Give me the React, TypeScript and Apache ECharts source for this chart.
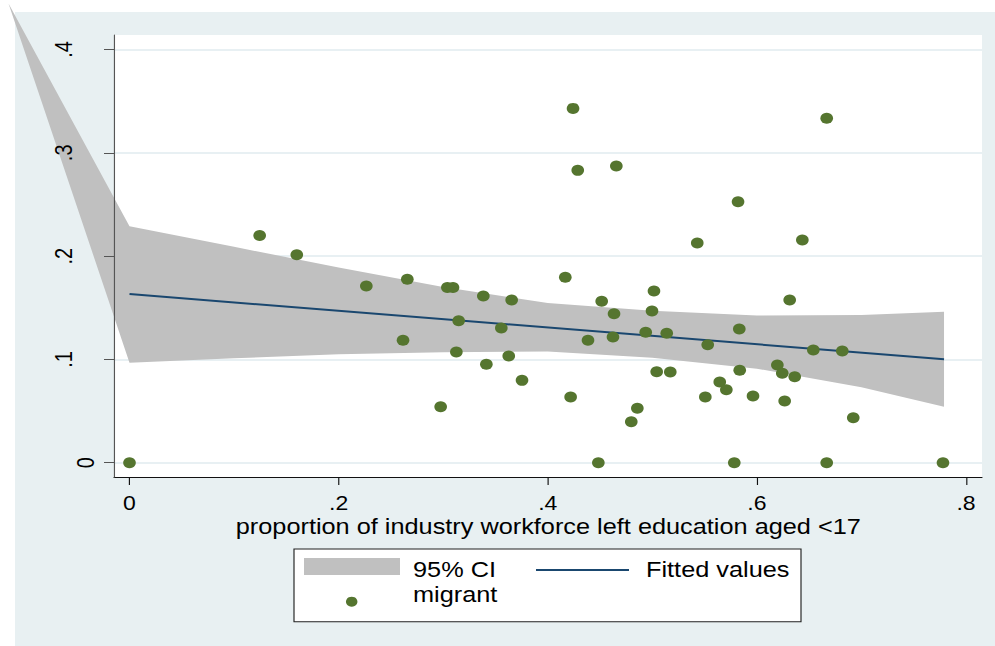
import React, { useEffect, useRef } from 'react';
import * as echarts from 'echarts';

// ---------- data ----------
const xTicks = [0, 0.2, 0.4, 0.6, 0.8];
const xTickLabels = ['0', '.2', '.4', '.6', '.8'];
const yTicks = [0, 0.1, 0.2, 0.3, 0.4];
const yTickLabels = ['0', '.1', '.2', '.3', '.4'];

const xTitle = 'proportion of industry workforce left education aged <17';
const legendNames = ['95% CI', 'Fitted values', 'migrant'];

const migrantX = [
  0.1245, 0.16, 0, 0.2265, 0.2657, 0.2616, 0.304, 0.3094, 0.3384, 0.3655,
  0.3148, 0.3556, 0.3126, 0.3627, 0.3413, 0.3754, 0.2976, 0.4242, 0.4287, 0.4656,
  0.582, 0.543, 0.4168, 0.4516, 0.5016, 0.4634, 0.4997, 0.4385, 0.4624, 0.4937,
  0.5138, 0.553, 0.5832, 0.5836, 0.5042, 0.5172, 0.5645, 0.5708, 0.5507, 0.5963,
  0.4219, 0.4857, 0.4799, 0.4484, 0.5784, 0.6668, 0.6435, 0.6314, 0.654, 0.6817,
  0.6196, 0.6243, 0.6362, 0.6266, 0.6922, 0.6668, 0.778,
];
const migrantY = [
  0.22, 0.2014, 0, 0.171, 0.1775, 0.1185, 0.1695, 0.1695, 0.1614, 0.1575,
  0.1375, 0.1304, 0.1072, 0.1033, 0.0952, 0.0797, 0.0542, 0.343, 0.283, 0.2872,
  0.2527, 0.2127, 0.1795, 0.1562, 0.1662, 0.1443, 0.1469, 0.1185, 0.1217, 0.1262,
  0.1253, 0.1142, 0.1294, 0.0894, 0.0881, 0.0878, 0.0781, 0.0707, 0.0636, 0.0646,
  0.0636, 0.0527, 0.0397, 0, 0, 0.3334, 0.2156, 0.1575, 0.1091, 0.1081,
  0.0946, 0.0865, 0.0833, 0.0597, 0.0436, 0, 0,
];

const fitX = [0, 0.779];
const fitY = [0.1633, 0.1002];

const ciX = [0, 0.1, 0.2, 0.3, 0.4, 0.5, 0.6, 0.7, 0.779];
const ciUpper = [0.229, 0.209, 0.189, 0.17, 0.1545, 0.147, 0.1425, 0.143, 0.1462];
const ciLower = [0.0968, 0.101, 0.105, 0.107, 0.1077, 0.1015, 0.091, 0.073, 0.0542];
// stray vertex of the CI area as drawn in the original (outside the plot region)
const ciArtifactVertex = [-0.1157, 0.4446];

// ---------- styling ----------
const S = 995 / 865; // horizontal stretch of the original picture
const FONT = '"Liberation Sans", Arial, Helvetica, sans-serif';
const GREEN = '#55752f';
const NAVY = '#1a476f';
const CI_GRAY = '#c0c0c0';
const BG = '#e8f0f2';

const X_MIN = -0.01482;
const X_MAX = 0.81532;
const Y_MIN = -0.01384;
const Y_MAX = 0.41404;

const sx = (v: number) => v / S;

export default function App() {
  const ref = useRef<HTMLDivElement>(null);

  useEffect(() => {
    if (!ref.current) return;
    const chart = echarts.init(ref.current, undefined, { renderer: 'svg' });

    const option: any = {
      animation: false,
      backgroundColor: '#ffffff',
      textStyle: { fontFamily: FONT },
      grid: {
        show: true,
        backgroundColor: '#ffffff',
        borderWidth: 0,
        left: sx(114),
        right: sx(13),
        top: 35,
        bottom: 169,
        containLabel: false,
      },
      xAxis: {
        type: 'value',
        min: X_MIN,
        max: X_MAX,
        axisLine: { show: true, onZero: false, lineStyle: { color: '#111', width: 1 } },
        axisTick: { show: true, length: 8, customValues: xTicks, lineStyle: { color: '#111', width: 1 } },
        axisLabel: {
          customValues: xTicks,
          margin: 16,
          fontSize: 20,
          fontFamily: FONT,
          color: '#000',
          formatter: (v: number) => {
            const i = xTicks.findIndex((t) => Math.abs(t - v) < 1e-9);
            return i >= 0 ? xTickLabels[i] : '';
          },
        },
        splitLine: { show: false },
      },
      yAxis: [
        {
          type: 'value',
          min: Y_MIN,
          max: Y_MAX,
          axisLine: { show: false, onZero: false },
          axisTick: { show: false, customValues: yTicks },
          axisLabel: { show: false, customValues: yTicks },
          splitLine: { show: true, lineStyle: { color: '#e8f0f3', width: 2 } },
        },
        {
          type: 'value',
          min: Y_MIN,
          max: Y_MAX,
          position: 'left',
          z: 5,
          axisLine: { show: true, onZero: false, lineStyle: { color: '#555', width: 1 } },
          axisTick: { show: true, length: sx(10), customValues: yTicks, lineStyle: { color: '#555', width: 1 } },
          axisLabel: {
            customValues: yTicks,
            rotate: 90,
            margin: 14.3,
            fontSize: 20,
            fontFamily: FONT,
            color: '#000',
            formatter: (v: number) => {
              const i = yTicks.findIndex((t) => Math.abs(t - v) < 1e-9);
              const lab = i >= 0 ? yTickLabels[i] : '';
              return i === 0 ? `{z|${lab}}` : `{n|${lab}}`;
            },
            rich: {
              z: { fontSize: 20, fontFamily: FONT, color: '#000' },
              n: { fontSize: 20, fontFamily: FONT, color: '#000', padding: [0, 0, 19, 0] },
            },
          },
          splitLine: { show: false },
        },
      ],
      series: [
        {
          type: 'custom',
          name: legendNames[0],
          silent: true,
          clip: false,
          z: 1,
          data: [[0, 0]],
          renderItem: (_params: any, api: any) => {
            const pts: number[][] = [api.coord(ciArtifactVertex)];
            ciX.forEach((x, i) => pts.push(api.coord([x, ciUpper[i]])));
            for (let i = ciX.length - 1; i >= 0; i--) pts.push(api.coord([ciX[i], ciLower[i]]));
            return {
              type: 'polygon',
              shape: { points: pts },
              style: { fill: CI_GRAY, stroke: null },
            };
          },
        },
        {
          type: 'line',
          name: legendNames[1],
          z: 2,
          showSymbol: false,
          symbol: 'none',
          data: fitX.map((x, i) => [x, fitY[i]]),
          lineStyle: { color: NAVY, width: 2 },
          silent: true,
        },
        {
          type: 'scatter',
          name: legendNames[2],
          z: 3,
          clip: false,
          symbol: 'circle',
          symbolSize: 11,
          itemStyle: { color: GREEN, opacity: 1 },
          data: migrantX.map((x, i) => [x, migrantY[i]]),
          silent: true,
        },
      ],
      graphic: [
        {
          type: 'rect',
          z: -100,
          silent: true,
          shape: { x: sx(15), y: 12, width: sx(995 - 15), height: 646 - 12 },
          style: { fill: BG },
        },
        {
          type: 'text',
          z: 10,
          x: sx(548.3),
          y: 526.4,
          style: {
            text: xTitle,
            fontSize: 22,
            fontFamily: FONT,
            fill: '#000',
            align: 'center',
            verticalAlign: 'middle',
          },
        },
        // legend
        {
          type: 'rect',
          z: 10,
          shape: { x: sx(294), y: 549, width: sx(801 - 294), height: 72.7 },
          style: { fill: '#ffffff', stroke: '#222', lineWidth: 1 },
        },
        {
          type: 'rect',
          z: 11,
          shape: { x: sx(304), y: 558, width: sx(96), height: 17 },
          style: { fill: CI_GRAY },
        },
        {
          type: 'text',
          z: 11,
          x: sx(413),
          y: 569.4,
          style: { text: legendNames[0], fontSize: 22, fontFamily: FONT, fill: '#000', align: 'left', verticalAlign: 'middle' },
        },
        {
          type: 'line',
          z: 11,
          shape: { x1: sx(536), y1: 570, x2: sx(629), y2: 570 },
          style: { stroke: NAVY, lineWidth: 2 },
        },
        {
          type: 'text',
          z: 11,
          x: sx(646),
          y: 569.4,
          style: { text: legendNames[1], fontSize: 22, fontFamily: FONT, fill: '#000', align: 'left', verticalAlign: 'middle' },
        },
        {
          type: 'circle',
          z: 11,
          shape: { cx: sx(351.7), cy: 601.7, r: 5 },
          style: { fill: GREEN },
        },
        {
          type: 'text',
          z: 11,
          x: sx(413),
          y: 594.7,
          style: { text: legendNames[2], fontSize: 22, fontFamily: FONT, fill: '#000', align: 'left', verticalAlign: 'middle' },
        },
      ],
    };

    chart.setOption(option);
    return () => chart.dispose();
  }, []);

  return (
    <div
      ref={ref}
      style={{
        position: 'fixed',
        left: 0,
        top: 0,
        width: 865,
        height: 646,
        transform: `scaleX(${S})`,
        transformOrigin: '0 0',
        background: '#fff',
      }}
    />
  );
}
